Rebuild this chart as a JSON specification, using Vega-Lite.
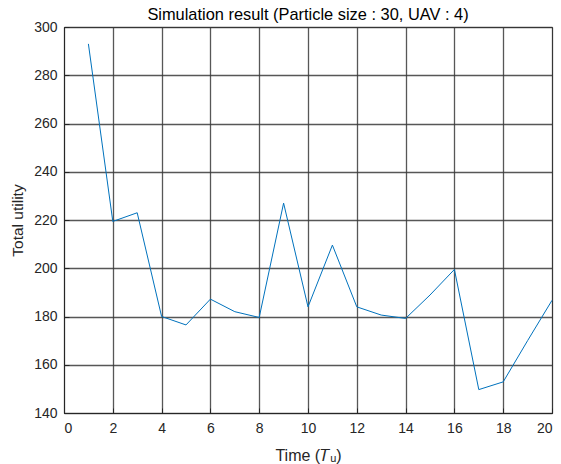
{
  "$schema": "https://vega.github.io/schema/vega-lite/v6.json",
  "autosize": {"type": "none"},
  "padding": {"left": 64, "top": 27, "right": 9, "bottom": 51},
  "width": 488,
  "height": 386,
  "background": "white",
  "title": {
    "text": "Simulation result (Particle size : 30, UAV : 4)",
    "font": "Liberation Sans",
    "fontSize": 16.4,
    "fontWeight": "normal",
    "color": "#000000",
    "offset": -3,
    "anchor": "middle"
  },
  "config": {
    "view": {"stroke": "#262626", "strokeWidth": 1},
    "axis": {
      "labelFont": "Liberation Sans",
      "labelFontSize": 14,
      "labelColor": "#262626",
      "titleFont": "Liberation Sans",
      "titleFontWeight": "normal",
      "titleColor": "#262626",
      "domainColor": "#262626",
      "tickColor": "#262626",
      "gridColor": "#3a3a3a",
      "gridOpacity": 0.85,
      "gridWidth": 1.3,
      "tickSize": -5
    }
  },
  "data": {
    "values": [
      {"t": 1, "u": 293},
      {"t": 2, "u": 219.4},
      {"t": 3, "u": 223},
      {"t": 4, "u": 180},
      {"t": 5, "u": 176.5},
      {"t": 6, "u": 187.2},
      {"t": 7, "u": 182},
      {"t": 8, "u": 179.6},
      {"t": 9, "u": 227},
      {"t": 10, "u": 184},
      {"t": 11, "u": 209.6},
      {"t": 12, "u": 184},
      {"t": 13, "u": 180.6},
      {"t": 14, "u": 179.2},
      {"t": 15, "u": 188.9},
      {"t": 16, "u": 199.5},
      {"t": 17, "u": 149.7},
      {"t": 18, "u": 152.9},
      {"t": 19, "u": 170},
      {"t": 20, "u": 186.7}
    ]
  },
  "mark": {"type": "line", "color": "#0072BD", "strokeWidth": 1},
  "encoding": {
    "x": {
      "field": "t",
      "type": "quantitative",
      "scale": {"domain": [0, 20], "nice": false},
      "axis": {
        "values": [0, 2, 4, 6, 8, 10, 12, 14, 16, 18, 20],
        "title": "Time (𝑇ᵤ)",
        "titleFontSize": 16,
        "titlePadding": 12,
        "labelPadding": 13
      }
    },
    "y": {
      "field": "u",
      "type": "quantitative",
      "scale": {"domain": [140, 300], "nice": false, "zero": false},
      "axis": {
        "values": [140, 160, 180, 200, 220, 240, 260, 280, 300],
        "title": "Total utility",
        "titleFontSize": 15.5,
        "titlePadding": 8,
        "labelPadding": 12
      }
    }
  }
}
